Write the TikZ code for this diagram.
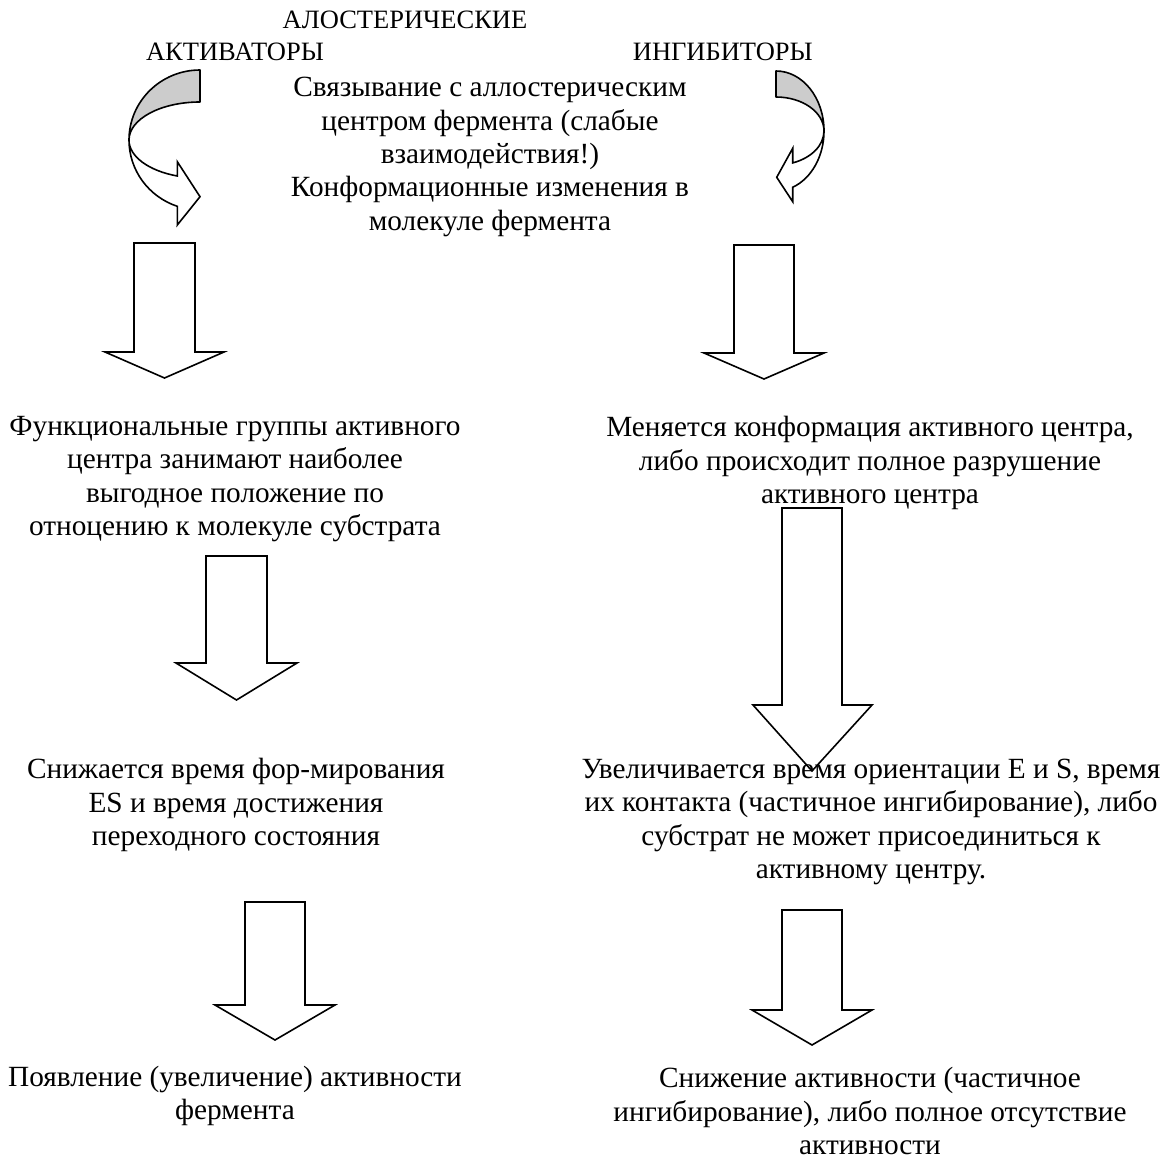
\documentclass[tikz,border=0pt]{standalone}
\usepackage{fontspec}
\setmainfont{Liberation Serif}[Script=Cyrillic,Ligatures=TeX]
\tikzset{
  txt/.style={inner sep=0pt, align=center, font=\fontsize{29.3}{33.3}\selectfont},
  ttl/.style={inner sep=0pt, align=center, font=\fontsize{26.5}{32}\selectfont},
  blk/.style={draw=black, line width=1.6pt, fill=white, line join=miter},
  back/.style={draw=black, line width=1.6pt, fill=black!20, line join=round},
}
\newcommand{\barrow}[7]{% xl xr ytop yshoulder headl headr ytip
  \draw[blk] (#1,#3) -- (#2,#3) -- (#2,#4) -- (#6,#4) -- ({(#1+#2)/2},#7) -- (#5,#4) -- (#1,#4) -- cycle;}
\begin{document}
\begin{tikzpicture}[x=1pt,y=-1pt]
\useasboundingbox (0,0) rectangle (1174,1167);

% titles
\node[ttl] (allo) at (405,20) {АЛОСТЕРИЧЕСКИЕ};
\node[ttl] (act) at (235,52) {АКТИВАТОРЫ};
\node[ttl,anchor=east] (inh) at (813,52) {ИНГИБИТОРЫ};

\node[txt] (mid) at (490,157) {Связывание с аллостерическим\\центром фермента (слабые\\взаимодействия!)\\Конформационные изменения в\\молекуле фермента};

% left curved arrow
\draw[back] (200,70) arc[start angle=270, end angle=180, x radius=71, y radius=70]
  arc[start angle=180, end angle=270, x radius=71, y radius=38] -- cycle;
\draw[blk] (129,140) arc[start angle=180, end angle=108.6, x radius=71, y radius=70]
  -- (177.3,225) -- (200,196.7) -- (177.3,161.7) -- (177.3,176)
  arc[start angle=108.6, end angle=180, x radius=71, y radius=38] -- cycle;

% right curved arrow
\draw[back] (776,71) arc[start angle=-90, end angle=0, x radius=48, y radius=60]
  arc[start angle=0, end angle=-90, x radius=48, y radius=34] -- cycle;
\draw[blk] (824,131) arc[start angle=0, end angle=69.6, x radius=48, y radius=60]
  -- (792.7,201.7) -- (776.7,177.3) -- (792.7,148.3) -- (792.7,162.9)
  arc[start angle=69.6, end angle=0, x radius=48, y radius=34] -- cycle;

% block arrows
\barrow{134}{195}{243}{352}{105}{224}{378}
\barrow{734}{794}{245}{353}{704}{824}{379}

\node[txt] (l1) at (235,479) {Функциональные группы активного\\центра занимают наиболее\\выгодное положение по\\отноцению к молекуле субстрата};
\node[txt] (r1) at (870,463) {Меняется конформация активного центра,\\либо происходит полное разрушение\\активного центра};

\barrow{206}{267}{556}{663}{176}{297}{700}
\barrow{782}{842}{508}{705}{753}{872}{771}

\node[txt] (l2) at (236,805) {Снижается время фор-мирования\\ES и время достижения\\переходного состояния};
\node[txt] (r2) at (871,822) {Увеличивается время ориентации E и S, время\\их контакта (частичное ингибирование), либо\\субстрат не может присоединиться к\\активному центру.};

\barrow{245}{305}{902}{1005}{215}{335}{1040}
\barrow{782}{842}{910}{1010}{752}{872}{1045}

\node[txt] (l3) at (235,1096) {Появление (увеличение) активности\\фермента};
\node[txt] (r3) at (870,1111) {Снижение активности (частичное\\ингибирование), либо полное отсутствие\\активности};
\end{tikzpicture}
\end{document}
